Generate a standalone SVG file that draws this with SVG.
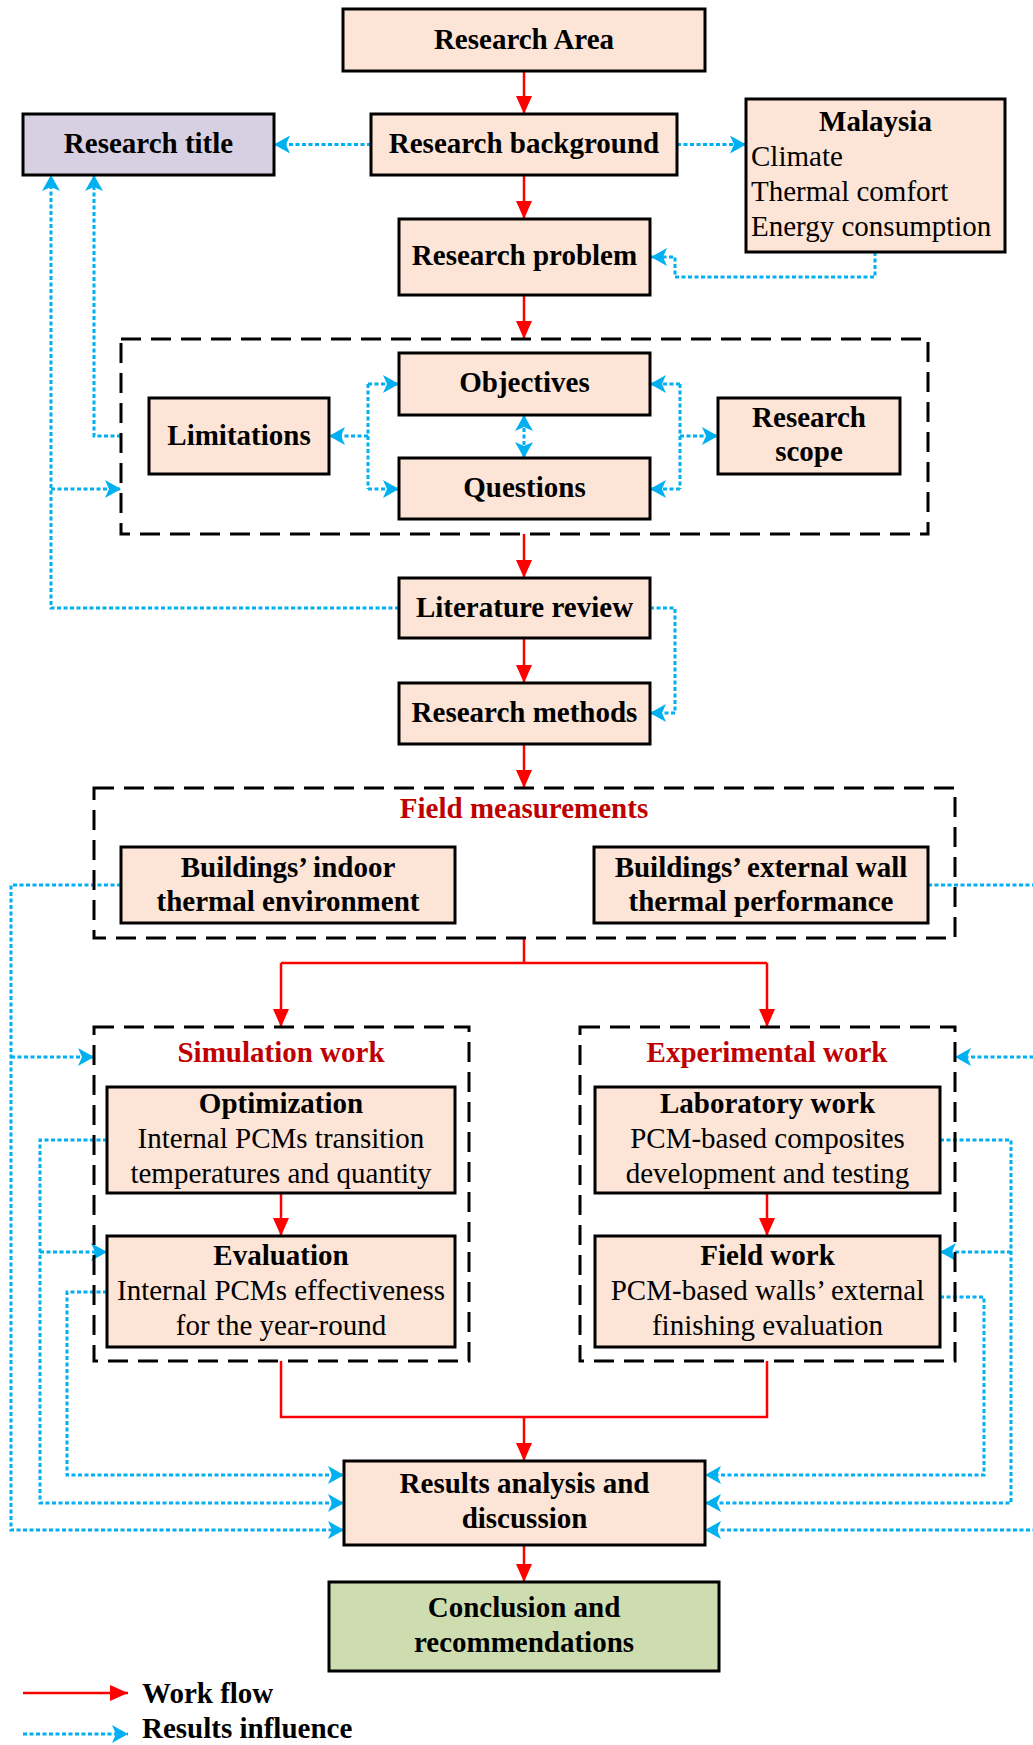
<svg xmlns="http://www.w3.org/2000/svg" width="1033" height="1745" viewBox="0 0 1033 1745">
<style>
.box{fill:#FCE4D6;stroke:#000;stroke-width:3}
.grp{fill:none;stroke:#000;stroke-width:3;stroke-dasharray:20 10}
.red{fill:none;stroke:#FF0000;stroke-width:2.5}
.blue{fill:none;stroke:#00B0F0;stroke-width:3;stroke-dasharray:4 2.5}
text{font-family:"Liberation Serif","Times New Roman",serif;font-size:29px;fill:#000}
.b{font-weight:bold}
.c{text-anchor:middle}
.rt{fill:#C00000;font-weight:bold}
</style>
<defs>
<marker id="ra" markerUnits="userSpaceOnUse" markerWidth="18" markerHeight="16" refX="18" refY="8" orient="auto"><path d="M0,0 L18,8 L0,16 z" fill="#FF0000"/></marker>
<marker id="ba" markerUnits="userSpaceOnUse" markerWidth="16" markerHeight="18" refX="16" refY="9" orient="auto"><path d="M0,0 L16,9 L0,18 L4,9 z" fill="#00B0F0"/></marker>
<marker id="bs" markerUnits="userSpaceOnUse" markerWidth="16" markerHeight="18" refX="0" refY="9" orient="auto"><path d="M16,0 L0,9 L16,18 L12,9 z" fill="#00B0F0"/></marker>
</defs>

<g id="connectors">
<g id="workflow">
<path class="red" d="M524,71 V114" marker-end="url(#ra)"/>
<path class="red" d="M524,175 V219" marker-end="url(#ra)"/>
<path class="red" d="M524,295 V339" marker-end="url(#ra)"/>
<path class="red" d="M524,534 V578" marker-end="url(#ra)"/>
<path class="red" d="M524,638 V683" marker-end="url(#ra)"/>
<path class="red" d="M524,744 V788" marker-end="url(#ra)"/>
<path class="red" d="M524,938 V963 M281,963 H767"/>
<path class="red" d="M281,963 V1027" marker-end="url(#ra)"/>
<path class="red" d="M767,963 V1027" marker-end="url(#ra)"/>
<path class="red" d="M281,1193 V1236" marker-end="url(#ra)"/>
<path class="red" d="M767,1193 V1236" marker-end="url(#ra)"/>
<path class="red" d="M281,1361 V1417 H767 V1361"/>
<path class="red" d="M524,1417 V1461" marker-end="url(#ra)"/>
<path class="red" d="M524,1545 V1582" marker-end="url(#ra)"/>
</g>
<g id="influence">
<path class="blue" d="M371,144.5 H274" marker-end="url(#ba)"/>
<path class="blue" d="M677,144.5 H746" marker-end="url(#ba)"/>
<path class="blue" d="M875,252 V277 H675 V257 H651" marker-end="url(#ba)"/>
<path class="blue" d="M121,436 H94 V175" marker-end="url(#ba)"/>
<path class="blue" d="M399,608 H51 V175" marker-end="url(#ba)"/>
<path class="blue" d="M51,489 H121" marker-end="url(#ba)"/>
<path class="blue" d="M368,384 V489"/>
<path class="blue" d="M368,384 H399" marker-end="url(#ba)"/>
<path class="blue" d="M368,489 H399" marker-end="url(#ba)"/>
<path class="blue" d="M368,436 H329" marker-end="url(#ba)"/>
<path class="blue" d="M680,384 V489"/>
<path class="blue" d="M680,384 H650" marker-end="url(#ba)"/>
<path class="blue" d="M680,489 H650" marker-end="url(#ba)"/>
<path class="blue" d="M680,436 H718" marker-end="url(#ba)"/>
<path class="blue" d="M524,415 V458" marker-start="url(#bs)" marker-end="url(#ba)"/>
<path class="blue" d="M650,608 H675 V713 H650" marker-end="url(#ba)"/>
<path class="blue" d="M121,885 H11 V1530 H344" marker-end="url(#ba)"/>
<path class="blue" d="M11,1057 H94" marker-end="url(#ba)"/>
<path class="blue" d="M928,885 H1040 V1530 H705" marker-end="url(#ba)"/>
<path class="blue" d="M1040,1057 H955" marker-end="url(#ba)"/>
<path class="blue" d="M107,1140 H40 V1503 H344" marker-end="url(#ba)"/>
<path class="blue" d="M40,1252 H107" marker-end="url(#ba)"/>
<path class="blue" d="M107,1292 H67 V1475 H344" marker-end="url(#ba)"/>
<path class="blue" d="M940,1140 H1011 V1503 H705" marker-end="url(#ba)"/>
<path class="blue" d="M1011,1252 H940" marker-end="url(#ba)"/>
<path class="blue" d="M940,1297 H984 V1475 H705" marker-end="url(#ba)"/>
</g>
</g>

<g id="group-objectives"><rect class="grp" x="121" y="339" width="807" height="195"/></g>
<g id="group-field"><rect class="grp" x="94" y="788" width="861" height="150"/><text class="rt c" x="524" y="818">Field measurements</text></g>
<g id="group-simulation"><rect class="grp" x="94" y="1027" width="375" height="334"/><text class="rt c" x="281" y="1062">Simulation work</text></g>
<g id="group-experimental"><rect class="grp" x="580" y="1027" width="375" height="334"/><text class="rt c" x="767" y="1062">Experimental work</text></g>

<g id="research-area"><rect class="box" x="343" y="9" width="362" height="62"/><text class="b c" x="524" y="49">Research Area</text></g>
<g id="research-background"><rect class="box" x="371" y="114" width="306" height="61"/><text class="b c" x="524" y="153">Research background</text></g>
<g id="research-title"><rect x="23" y="114" width="251" height="61" fill="#D6D0E2" stroke="#000" stroke-width="3"/><text class="b c" x="148.5" y="153">Research title</text></g>
<g id="malaysia"><rect class="box" x="746" y="99" width="259" height="153"/><text class="b c" x="875.5" y="131">Malaysia</text><text x="751" y="166">Climate</text><text x="751" y="201">Thermal comfort</text><text x="751" y="236">Energy consumption</text></g>
<g id="research-problem"><rect class="box" x="399" y="219" width="251" height="76"/><text class="b c" x="524.5" y="265">Research problem</text></g>
<g id="objectives"><rect class="box" x="399" y="353" width="251" height="62"/><text class="b c" x="524.5" y="392">Objectives</text></g>
<g id="questions"><rect class="box" x="399" y="458" width="251" height="61"/><text class="b c" x="524.5" y="497">Questions</text></g>
<g id="limitations"><rect class="box" x="149" y="398" width="180" height="76"/><text class="b c" x="239" y="445">Limitations</text></g>
<g id="research-scope"><rect class="box" x="718" y="398" width="182" height="76"/><text class="b c" x="809" y="427">Research</text><text class="b c" x="809" y="461">scope</text></g>
<g id="literature-review"><rect class="box" x="399" y="578" width="251" height="60"/><text class="b c" x="524.5" y="617">Literature review</text></g>
<g id="research-methods"><rect class="box" x="399" y="683" width="251" height="61"/><text class="b c" x="524.5" y="722">Research methods</text></g>
<g id="indoor"><rect class="box" x="121" y="847" width="334" height="76"/><text class="b c" x="288" y="877">Buildings’ indoor</text><text class="b c" x="288" y="911">thermal environment</text></g>
<g id="external-wall"><rect class="box" x="594" y="847" width="334" height="76"/><text class="b c" x="761" y="877">Buildings’ external wall</text><text class="b c" x="761" y="911">thermal performance</text></g>
<g id="optimization"><rect class="box" x="107" y="1087" width="348" height="106"/><text class="b c" x="281" y="1113">Optimization</text><text class="c" x="281" y="1148">Internal PCMs transition</text><text class="c" x="281" y="1183">temperatures and quantity</text></g>
<g id="evaluation"><rect class="box" x="107" y="1236" width="348" height="111"/><text class="b c" x="281" y="1265">Evaluation</text><text class="c" x="281" y="1300">Internal PCMs effectiveness</text><text class="c" x="281" y="1335">for the year-round</text></g>
<g id="laboratory"><rect class="box" x="595" y="1087" width="345" height="106"/><text class="b c" x="767.5" y="1113">Laboratory work</text><text class="c" x="767.5" y="1148">PCM-based composites</text><text class="c" x="767.5" y="1183">development and testing</text></g>
<g id="field-work"><rect class="box" x="595" y="1236" width="345" height="111"/><text class="b c" x="767.5" y="1265">Field work</text><text class="c" x="767.5" y="1300">PCM-based walls’ external</text><text class="c" x="767.5" y="1335">finishing evaluation</text></g>
<g id="results"><rect class="box" x="344" y="1461" width="361" height="84"/><text class="b c" x="524.5" y="1493">Results analysis and</text><text class="b c" x="524.5" y="1528">discussion</text></g>
<g id="conclusion"><rect x="329" y="1582" width="390" height="89" fill="#CEDDAF" stroke="#000" stroke-width="3"/><text class="b c" x="524" y="1617">Conclusion and</text><text class="b c" x="524" y="1652">recommendations</text></g>

<g id="legend">
<path class="red" d="M23,1693 H128" marker-end="url(#ra)"/>
<text class="b" x="142" y="1703">Work flow</text>
<path class="blue" d="M23,1734 H128" marker-end="url(#ba)"/>
<text class="b" x="142" y="1738">Results influence</text>
</g>
</svg>
